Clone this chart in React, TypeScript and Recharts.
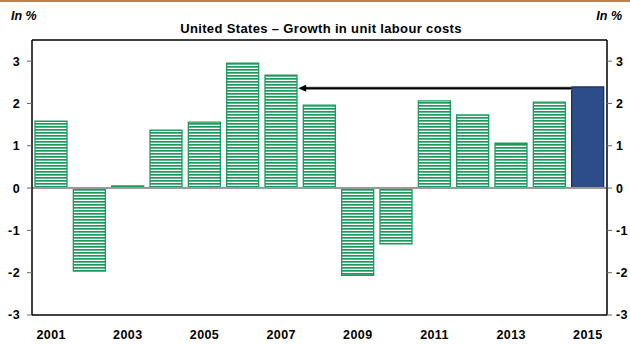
import React from "react";
import { BarChart, Bar, XAxis, YAxis, Cell, ReferenceLine } from "recharts";

const years = ["2001","2002","2003","2004","2005","2006","2007","2008","2009","2010","2011","2012","2013","2014","2015"];
const growth = [1.58, -1.96, 0.05, 1.37, 1.56, 2.95, 2.67, 1.96, -2.06, -1.32, 2.06, 1.73, 1.06, 2.03, 2.39];
const yTicks = [-3, -2, -1, 0, 1, 2, 3];
const arrowFrom = "2015";
const arrowTo = "2007";
const arrowLevel = 2.36;

const data = years.map((y, i) => ({ year: y, value: growth[i] }));

const FONT = "'Liberation Sans', Arial, sans-serif";
const GREEN = "#1c9a5c";
const NAVY = "#2d4d8a";

const ArrowShape = (props: any) => {
  const { x1, y1, x2, y2 } = props;
  if (x1 == null || x2 == null) return null;
  const left = Math.min(x1, x2) + 17;
  const right = Math.max(x1, x2) - 16;
  const y = y1;
  return (
    <g>
      <line x1={left + 6} y1={y} x2={right} y2={y} stroke="#b0b0b0" strokeWidth={3.5} />
      <line x1={left + 6} y1={y} x2={right} y2={y} stroke="#000" strokeWidth={2} />
      <polygon points={`${left},${y} ${left + 8},${y - 3.5} ${left + 8},${y + 3.5}`} fill="#000" />
    </g>
  );
};

const tickStyle = { fontSize: 12.5, fontWeight: "bold", fill: "#000", fontFamily: FONT, letterSpacing: 0.4 };

export default function App() {
  return (
    <div style={{ position: "absolute", left: 0, top: 0, width: 630, height: 344, background: "#fff", fontFamily: FONT }}>
      <svg width={0} height={0} style={{ position: "absolute" }}>
        <defs>
          <pattern id="stripes" patternUnits="userSpaceOnUse" width={6} height={3}>
            <rect x={0} y={0} width={6} height={3} fill="#ffffff" />
            <rect x={0} y={0} width={6} height={1.7} fill={GREEN} />
          </pattern>
        </defs>
      </svg>
      <div style={{ position: "absolute", left: 0, top: 0, width: 630, height: 2, background: "#c08048" }} />
      <div style={{ position: "absolute", left: 11, top: 9, fontSize: 12.5, fontWeight: "bold", fontStyle: "italic" }}>In %</div>
      <div style={{ position: "absolute", right: 8, top: 9, fontSize: 12.5, fontWeight: "bold", fontStyle: "italic" }}>In %</div>
      <div style={{ position: "absolute", left: 0, width: 642, top: 21, textAlign: "center", fontSize: 13, fontWeight: "bold", letterSpacing: 0.35 }}>
        United States – Growth in unit labour costs
      </div>
      <div style={{ position: "absolute", left: 0, top: 0 }}>
        <BarChart width={630} height={344} data={data} margin={{ top: 40, right: 0, bottom: 0, left: 0 }} barCategoryGap={3}>
          <XAxis
            dataKey="year"
            interval={1}
            tickLine={false}
            axisLine={{ stroke: "#000", strokeWidth: 1.5 }}
            height={29}
            tick={tickStyle}
            tickMargin={9}
          />
          <YAxis
            yAxisId="left"
            orientation="left"
            width={32}
            domain={[-3, 3.5]}
            ticks={yTicks}
            allowDataOverflow
            axisLine={{ stroke: "#000", strokeWidth: 1.5 }}
            tickLine={{ stroke: "#666" }}
            tickSize={5}
            tickMargin={7}
            tick={tickStyle}
          />
          <YAxis
            yAxisId="right"
            orientation="right"
            width={23}
            domain={[-3, 3.5]}
            ticks={yTicks}
            allowDataOverflow
            axisLine={{ stroke: "#000", strokeWidth: 1.5 }}
            tickLine={{ stroke: "#666" }}
            tickSize={5}
            tickMargin={4}
            tick={tickStyle}
          />
          <ReferenceLine yAxisId="left" y={3.5} stroke="#000" strokeWidth={1.5} />
          <ReferenceLine yAxisId="left" y={0} stroke="#9a9a9a" strokeWidth={2} />
          <Bar yAxisId="left" dataKey="value" isAnimationActive={false} strokeWidth={1.3}>
            {data.map((d, i) => (
              <Cell
                key={d.year}
                fill={i === data.length - 1 ? NAVY : "url(#stripes)"}
                stroke={i === data.length - 1 ? "#1d2f5c" : GREEN}
              />
            ))}
          </Bar>
          <ReferenceLine
            yAxisId="left"
            segment={[{ x: arrowTo, y: arrowLevel }, { x: arrowFrom, y: arrowLevel }]}
            shape={ArrowShape}
          />
        </BarChart>
      </div>
    </div>
  );
}
